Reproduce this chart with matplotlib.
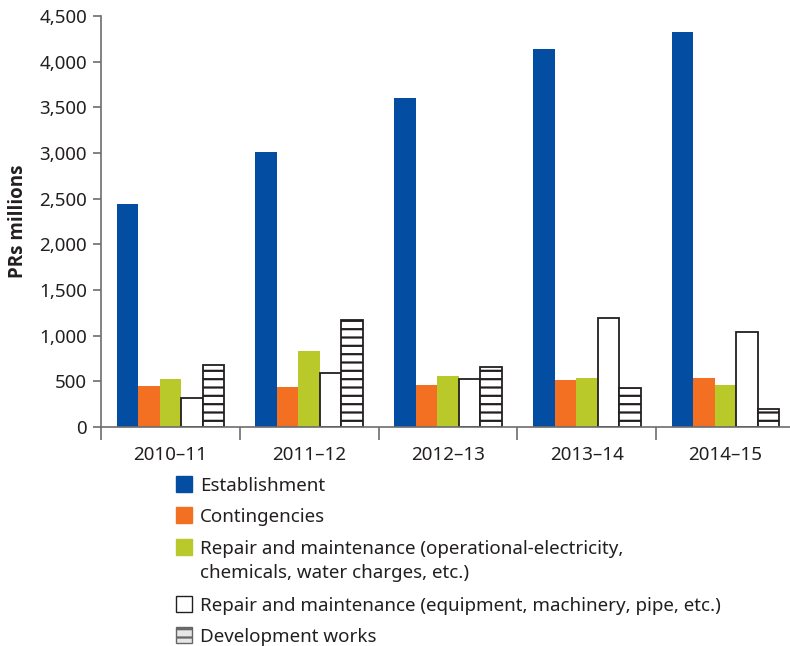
import numpy as np
import matplotlib.pyplot as plt
from matplotlib.patches import Rectangle

plt.rcParams['font.family'] = ['Noto Sans', 'DejaVu Sans']
plt.rcParams['hatch.linewidth'] = 1.6
plt.rcParams['hatch.color'] = '#231f20'

years = ['2010–11', '2011–12', '2012–13', '2013–14', '2014–15']
establishment = [2440, 3010, 3600, 4140, 4325]
contingencies = [450, 440, 460, 515, 537]
repair_oper = [525, 832, 558, 537, 460]
repair_equip = [314, 591, 522, 1193, 1037]
development = [676, 1168, 660, 431, 194]

labels = ['Establishment',
          'Contingencies',
          'Repair and maintenance (operational-electricity,\nchemicals, water charges, etc.)',
          'Repair and maintenance (equipment, machinery, pipe, etc.)',
          'Development works']

TXT = '#231f20'
AX = '#6d6d6d'
FS = 13.5
series = [establishment, contingencies, repair_oper, repair_equip, development]
styles = [dict(color='#034EA2'),
          dict(color='#F36F21'),
          dict(color='#B8C929'),
          dict(facecolor='white', edgecolor=TXT, linewidth=1.3),
          dict(facecolor='white', edgecolor=TXT, linewidth=1.3, hatch='--')]

fig = plt.figure(figsize=(7.9, 6.46), dpi=100)
W, H = 790, 646
ax = fig.add_axes([101 / W, (H - 427) / H, 694 / W, 411 / H])

x = np.arange(len(years))
bw = 0.155
for k, (vals, st) in enumerate(zip(series, styles)):
    ax.bar(x + (k - 2) * bw, vals, bw, **st)

ax.set_xlim(-0.5, 4.5)
ax.set_ylim(0, 4500)
ax.set_yticks(np.arange(0, 4501, 500))
ax.set_yticklabels(['{:,}'.format(v) for v in range(0, 4501, 500)])
ax.set_xticks(np.arange(-0.5, 5, 1))
ax.set_xticklabels([])
ax.set_xticks(x, minor=True)
ax.set_xticklabels(years, minor=True)
ax.tick_params(axis='x', which='major', length=9, width=1.2, color=AX, direction='out')
ax.tick_params(axis='x', which='minor', length=0, pad=14, labelsize=FS, labelcolor=TXT)
ax.tick_params(axis='y', length=6, width=1.2, color=AX, labelsize=FS, labelcolor=TXT, pad=4)
for s in ['top', 'right']:
    ax.spines[s].set_visible(False)
for s in ['left', 'bottom']:
    ax.spines[s].set_color(AX)
    ax.spines[s].set_linewidth(1.2)
ax.set_ylabel('PRs millions', fontsize=FS, fontweight='bold', color=TXT, labelpad=8,
              family=['Open Sans', 'DejaVu Sans'])

# legend drawn by hand so the swatch sits on the first line of each entry
rows = [484, 515, 547, 604, 635]
for lab, st, yc in zip(labels, styles, rows):
    st2 = dict(st)
    if 'hatch' in st2:
        st2['facecolor'] = '#e6e6e6'
        st2['edgecolor'] = '#666666'
        st2['linewidth'] = 1.0
    elif 'edgecolor' in st2:
        st2['linewidth'] = 1.0
    fig.patches.append(Rectangle((176 / W, 1 - (yc + 8) / H), 16 / W, 16 / H,
                                 transform=fig.transFigure, **st2))
    for i, line in enumerate(lab.split('\n')):
        fig.text(200 / W, 1 - (yc + 7 + 24 * i) / H, line, fontsize=FS, color=TXT,
                 va='baseline', ha='left')

fig.savefig('out.png', dpi=100)
